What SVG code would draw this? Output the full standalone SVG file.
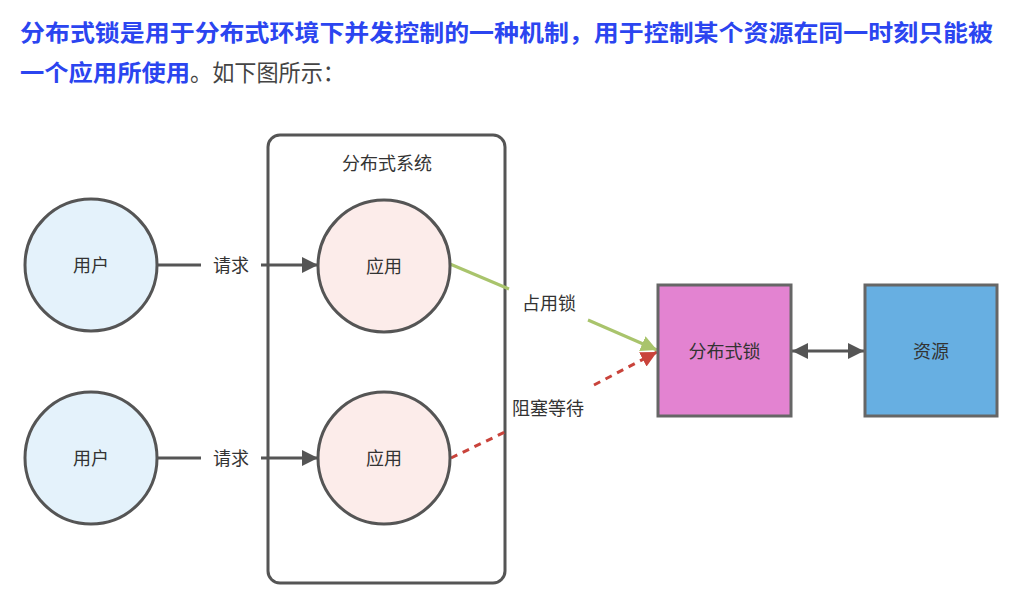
<svg xmlns="http://www.w3.org/2000/svg" width="1022" height="608" viewBox="0 0 1022 608">
<style>
.hd{font-family:"Noto Sans CJK SC",sans-serif;font-size:23px;font-weight:bold;fill:#2b45f0}
.hn{font-family:"Noto Sans CJK SC",sans-serif;font-size:23px;fill:#444}
.t{font-family:"Noto Sans CJK SC",sans-serif;font-size:18px;fill:#333;text-anchor:middle;dominant-baseline:central}
.circ{stroke:#555;stroke-width:3}
.ln{stroke:#555;stroke-width:3;fill:none}
</style>
<defs>
<marker id="a" viewBox="0 0 10 10" refX="10" refY="5" markerWidth="16" markerHeight="16" orient="auto-start-reverse" markerUnits="userSpaceOnUse"><path d="M0,0 L10,5 L0,10 z" fill="#555"/></marker>
<marker id="agr" viewBox="0 0 10 10" refX="10" refY="5" markerWidth="16" markerHeight="16" orient="auto" markerUnits="userSpaceOnUse"><path d="M0,0 L10,5 L0,10 z" fill="#a9c46c"/></marker>
<marker id="ard" viewBox="0 0 10 10" refX="10" refY="5" markerWidth="16" markerHeight="16" orient="auto" markerUnits="userSpaceOnUse"><path d="M0,0 L10,5 L0,10 z" fill="#c9433b"/></marker>
</defs>
<rect width="1022" height="608" fill="#fff"/>
<g id="header">
<text x="20" y="41" class="hd" textLength="973" lengthAdjust="spacingAndGlyphs">分布式锁是用于分布式环境下并发控制的一种机制，用于控制某个资源在同一时刻只能被</text>
<text x="20" y="81" class="hd" textLength="170" lengthAdjust="spacingAndGlyphs">一个应用所使用</text>
<text x="190" y="81" class="hn" textLength="155" lengthAdjust="spacingAndGlyphs">。如下图所示：</text>
</g>
<g id="system">
<rect x="268" y="135" width="237" height="448" rx="12" fill="none" stroke="#555" stroke-width="3"/>
<text x="387" y="162" class="t">分布式系统</text>
</g>
<g id="connectors">
<line x1="157" y1="265" x2="201" y2="265" class="ln"/>
<line x1="261" y1="265" x2="318" y2="265" class="ln" marker-end="url(#a)"/>
<line x1="157" y1="458" x2="201" y2="458" class="ln"/>
<line x1="261" y1="458" x2="318" y2="458" class="ln" marker-end="url(#a)"/>
<line x1="450" y1="264" x2="509" y2="289" stroke="#a9c46c" stroke-width="3"/>
<line x1="588" y1="320" x2="657" y2="350" stroke="#a9c46c" stroke-width="3" marker-end="url(#agr)"/>
<line x1="451" y1="458" x2="505" y2="432" stroke="#c9433b" stroke-width="3" stroke-dasharray="7,6"/>
<line x1="594" y1="385" x2="657" y2="352" stroke="#c9433b" stroke-width="3" stroke-dasharray="7,6" marker-end="url(#ard)"/>
<line x1="792" y1="351" x2="864" y2="351" class="ln" marker-start="url(#a)" marker-end="url(#a)"/>
<text x="231" y="264" class="t">请求</text>
<text x="231" y="457" class="t">请求</text>
<text x="549" y="302" class="t">占用锁</text>
<text x="548" y="407" class="t">阻塞等待</text>
</g>
<g id="user1"><circle cx="91" cy="265" r="66" fill="#e4f2fb" class="circ"/><text x="91" y="264" class="t">用户</text></g>
<g id="user2"><circle cx="91" cy="458" r="66" fill="#e4f2fb" class="circ"/><text x="91" y="457" class="t">用户</text></g>
<g id="app1"><circle cx="384" cy="266" r="66" fill="#fcecea" class="circ"/><text x="384" y="265" class="t">应用</text></g>
<g id="app2"><circle cx="384" cy="458" r="66" fill="#fcecea" class="circ"/><text x="384" y="457" class="t">应用</text></g>
<g id="lock"><rect x="658" y="285" width="133" height="131" fill="#e383d1" stroke="#666" stroke-width="3"/><text x="724.5" y="350" class="t">分布式锁</text></g>
<g id="resource"><rect x="865" y="285" width="132" height="131" fill="#67afe2" stroke="#666" stroke-width="3"/><text x="931" y="350" class="t">资源</text></g>
</svg>
